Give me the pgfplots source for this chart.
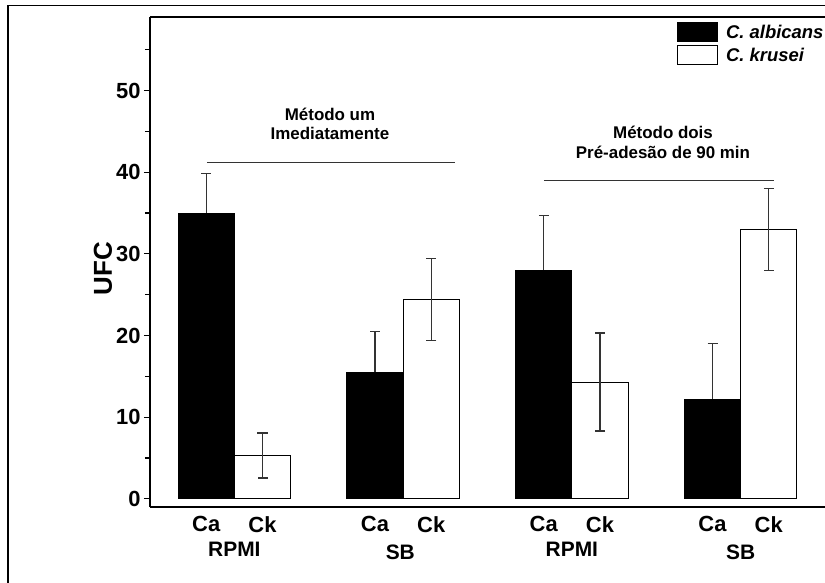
\documentclass[border=0pt]{standalone}
\usepackage{fontspec}
\setmainfont{Liberation Sans}
\usepackage{pgfplots}
\usepackage{pgfplotstable}
\pgfplotsset{compat=1.18}

% x: bar position, y: mean UFC, err: error bar half width
\pgfplotstableread{
x y err
1 35.0 4.8
4 15.5 5.0
7 28.0 6.7
10 12.2 6.8
}\albicans
\pgfplotstableread{
x y err
2 5.3 2.75
5 24.4 5.0
8 14.3 6.0
11 33.0 5.0
}\krusei

\pgfplotsset{
  legbox/.style={legend image code/.code={\draw[##1] (0bp,-9.5bp) rectangle (40bp,9.5bp);}},
  /pgfplots/error bars/errstyle/.style={error bar style={line width=1.2bp, draw=black!80},
    error mark options={rotate=90, mark size=5bp, line width=1.2bp, draw=black!80}},
}

\begin{document}
\begin{tikzpicture}
\path[use as bounding box] (-150bp,-76bp) rectangle (675bp,507bp);
\draw[line width=1.6bp] (-142bp,-80bp) -- (-142bp,501.3bp) -- (680bp,501.3bp);
\begin{axis}[
  scale only axis, width=675bp, height=490bp,
  xmin=0, xmax=12, ymin=-1, ymax=59,
  axis x line*=bottom, axis y line*=left,
  axis line style={line width=1.6bp},
  clip=false,
  tick align=outside,
  ytick={0,10,...,50}, minor ytick={5,15,...,55},
  major tick length=6bp, minor tick length=5bp,
  every tick/.style={line width=1.2bp, black},
  xtick={1,2,4,5,7,8,10,11},
  xticklabels={Ca,Ck,Ca,Ck,Ca,Ck,Ca,Ck},
  x tick style={draw=none},
  /pgf/number format/assume math mode=true,
  tick label style={font=\fontsize{22}{26}\selectfont\bfseries},
  ylabel={UFC},
  ylabel style={at={(rel axis cs:-0.0696,0.486)}, anchor=center, font=\fontsize{26}{30}\selectfont\bfseries},
  legend style={at={(rel axis cs:0.7807,0.9898)}, anchor=north west, draw=none, fill=none,
    font=\fontsize{18.5}{21}\selectfont\bfseries\itshape, row sep=3bp, column sep=6bp, inner sep=0pt},
  legend cell align=left,
]
\addplot[ybar, bar shift=0pt, bar width=1, fill=black, draw=black, line width=1bp, legbox,
  error bars/.cd, y dir=plus, y explicit, errstyle]
  table[x=x, y=y, y error=err] {\albicans};
\addlegendentry{C. albicans}
\addplot[ybar, bar shift=0pt, bar width=1, fill=white, draw=black, line width=1bp, legbox,
  error bars/.cd, y dir=both, y explicit, errstyle]
  table[x=x, y=y, y error=err] {\krusei};
\addlegendentry{C. krusei}

\draw[line width=1.6bp] (rel axis cs:0,1) -- (rel axis cs:1.02,1);

\draw[line width=1.4bp, black!80] (axis cs:1.01,41.2) -- (axis cs:5.42,41.2);
\draw[line width=1.4bp, black!80] (axis cs:7.0,39.0) -- (axis cs:11.1,39.0);
\begin{scope}[every node/.style={font=\fontsize{17}{20}\selectfont\bfseries, anchor=base}]
\node at (axis cs:3.2,46.3) {Método um};
\node at (axis cs:3.2,44.0) {Imediatamente};
\node at (axis cs:9.12,44.1) {Método dois};
\node at (axis cs:9.12,41.7) {Pré-adesão de 90 min};
\end{scope}
\begin{scope}[every node/.style={font=\fontsize{21}{25}\selectfont\bfseries, anchor=base}]
\node at (axis cs:1.5,-7.1) {RPMI};
\node at (axis cs:4.45,-7.4) {SB};
\node at (axis cs:7.5,-7.0) {RPMI};
\node at (axis cs:10.5,-7.4) {SB};
\end{scope}
\end{axis}
\end{tikzpicture}
\end{document}
